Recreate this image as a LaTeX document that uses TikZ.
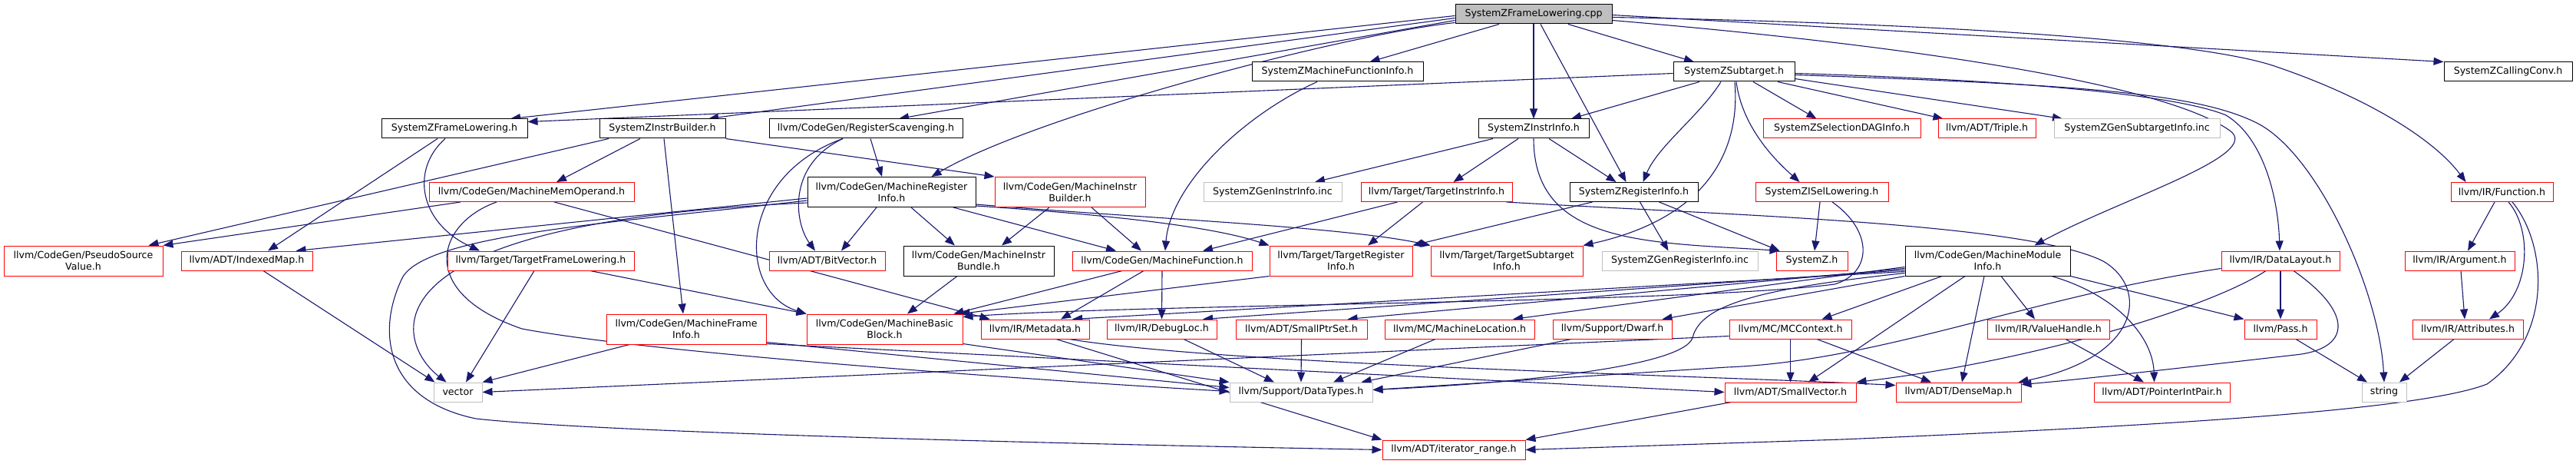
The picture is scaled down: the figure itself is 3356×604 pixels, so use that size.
\documentclass[tikz,border=0pt]{standalone}
\usepackage{fontspec}
\setmainfont{DejaVu Sans}
\usetikzlibrary{arrows.meta}
\definecolor{edgec}{HTML}{191970}
\definecolor{greyb}{HTML}{BFBFBF}
\definecolor{nred}{HTML}{FF0000}
\pgfdeclarelayer{edges}
\pgfsetlayers{edges,main}
\tikzset{
  nb/.style={draw=black, fill=white, line width=1pt, inner sep=0pt, align=center,
    minimum height=25, font=\fontsize{12.6}{15}\selectfont},
  nr/.style={nb, draw=nred},
  ng/.style={nb, draw=greyb},
  nroot/.style={nb, fill=greyb},
  twol/.style={minimum height=39},
  edg/.style={draw=edgec, line width=1.1pt, -{Triangle[length=13pt,width=10pt]}}
}
\begin{document}
\begin{tikzpicture}[x=1pt,y=-1pt]
\useasboundingbox (0,0) rectangle (3356,604);
% row 0
\node[nroot, minimum width=204] (root) at (1998,18.5) {SystemZFrameLowering.cpp};
% row 1
\node[nb, minimum width=223] (mfi) at (1742.5,93.5) {SystemZMachineFunctionInfo.h};
\node[nb, minimum width=158] (st) at (2259,93.5) {SystemZSubtarget.h};
\node[nb, minimum width=167] (cc) at (3267.5,93.5) {SystemZCallingConv.h};
% row 2
\node[nb, minimum width=190] (fl) at (592,167.5) {SystemZFrameLowering.h};
\node[nb, minimum width=164] (ib) at (863,167.5) {SystemZInstrBuilder.h};
\node[nb, minimum width=252] (rs) at (1128,167.5) {llvm/CodeGen/RegisterScavenging.h};
\node[nb, minimum width=144] (ii) at (1998,167.5) {SystemZInstrInfo.h};
\node[nr, minimum width=205] (sdag) at (2399.5,167.5) {SystemZSelectionDAGInfo.h};
\node[nr, minimum width=127] (tr) at (2588.5,167.5) {llvm/ADT/Triple.h};
\node[ng, minimum width=216] (gsi) at (2784,167.5) {SystemZGenSubtargetInfo.inc};
% row 3
\node[nr, minimum width=267] (mmo) at (692.5,250) {llvm/CodeGen/MachineMemOperand.h};
\node[nb, twol, minimum width=219] (mri) at (1161.5,250) {llvm/CodeGen/MachineRegister\\Info.h};
\node[nr, twol, minimum width=196] (mib) at (1394,250) {llvm/CodeGen/MachineInstr\\Builder.h};
\node[ng, minimum width=180] (gii) at (1658,250) {SystemZGenInstrInfo.inc};
\node[nr, minimum width=197] (tii) at (1871.5,250) {llvm/Target/TargetInstrInfo.h};
\node[nb, minimum width=167] (ri) at (2128.5,250) {SystemZRegisterInfo.h};
\node[nr, minimum width=173] (isl) at (2373.5,250) {SystemZISelLowering.h};
\node[nr, minimum width=133] (fn) at (3259.5,250) {llvm/IR/Function.h};
% row 4
\node[nr, twol, minimum width=207] (psv) at (108.5,339.5) {llvm/CodeGen/PseudoSource\\Value.h};
\node[nr, minimum width=171] (im) at (321.5,339.5) {llvm/ADT/IndexedMap.h};
\node[nr, minimum width=243] (tfl) at (704.5,339.5) {llvm/Target/TargetFrameLowering.h};
\node[nr, minimum width=151] (bv) at (1077.5,339.5) {llvm/ADT/BitVector.h};
\node[nb, twol, minimum width=196] (mbun) at (1275,339.5) {llvm/CodeGen/MachineInstr\\Bundle.h};
\node[nr, minimum width=234] (mf) at (1514,339.5) {llvm/CodeGen/MachineFunction.h};
\node[nr, twol, minimum width=186] (tri) at (1747,339.5) {llvm/Target/TargetRegister\\Info.h};
\node[nr, twol, minimum width=198] (tsi) at (1963,339.5) {llvm/Target/TargetSubtarget\\Info.h};
\node[ng, minimum width=203] (gri) at (2188.5,339.5) {SystemZGenRegisterInfo.inc};
\node[nr, minimum width=93] (sz) at (2360.5,339.5) {SystemZ.h};
\node[nb, twol, minimum width=215] (mmi) at (2589.5,339.5) {llvm/CodeGen/MachineModule\\Info.h};
\node[nr, minimum width=154] (dly) at (2971,339.5) {llvm/IR/DataLayout.h};
\node[nr, minimum width=143] (arg) at (3204.5,339.5) {llvm/IR/Argument.h};
% row 5
\node[nr, twol, minimum width=208] (mfri) at (894,428.5) {llvm/CodeGen/MachineFrame\\Info.h};
\node[nr, twol, minimum width=203] (mbb) at (1152.5,428.5) {llvm/CodeGen/MachineBasic\\Block.h};
\node[nr, minimum width=141] (md) at (1348.5,428.5) {llvm/IR/Metadata.h};
\node[nr, minimum width=143] (dl) at (1513.5,428.5) {llvm/IR/DebugLoc.h};
\node[nr, minimum width=171] (sps) at (1695.5,428.5) {llvm/ADT/SmallPtrSet.h};
\node[nr, minimum width=195] (ml) at (1901.5,428.5) {llvm/MC/MachineLocation.h};
\node[nr, minimum width=155] (dw) at (2100.5,428.5) {llvm/Support/Dwarf.h};
\node[nr, minimum width=159] (mcc) at (2332.5,428.5) {llvm/MC/MCContext.h};
\node[nr, minimum width=159] (vh) at (2668.5,428.5) {llvm/IR/ValueHandle.h};
\node[nr, minimum width=94] (pass) at (2971,428.5) {llvm/Pass.h};
\node[nr, minimum width=144] (attr) at (3215,428.5) {llvm/IR/Attributes.h};
% row 6
\node[ng, minimum width=63] (vec) at (596.5,510.5) {vector};
\node[ng, minimum width=186] (dt) at (1695,510.5) {llvm/Support/DataTypes.h};
\node[nr, minimum width=171] (sv) at (2332.5,510.5) {llvm/ADT/SmallVector.h};
\node[nr, minimum width=163] (dm) at (2551.5,510.5) {llvm/ADT/DenseMap.h};
\node[nr, minimum width=177] (pip) at (2816.5,510.5) {llvm/ADT/PointerIntPair.h};
\node[ng, minimum width=58] (str) at (3106,510.5) {string};
% row 7
\node[nr, minimum width=186] (ir) at (1894,585.5) {llvm/ADT/iterator\_range.h};

\begin{pgfonlayer}{edges}
% root
\draw[edg] ([shift={(0,2)}]root.west) -- ([xshift=73]fl.north);
\draw[edg] ([shift={(0,5)}]root.west) -- ([xshift=60]ib.north);
\draw[edg] ([shift={(0,8)}]root.west) -- ([xshift=43]rs.north);
\draw[edg] ([shift={(0,11)}]root.west) .. controls (1750,45) and (1350,150) .. ([xshift=52]mri.north);
\draw[edg] ([xshift=-45]root.south) -- ([xshift=42]mfi.north);
\draw[edg] (root.south) -- (ii.north);
\draw[edg] ([xshift=9]root.south) -- ([xshift=-10]ri.north);
\draw[edg] ([xshift=45]root.south) -- ([xshift=-52]st.north);
\draw[edg] ([shift={(0,1)}]root.east) -- (cc.north west);
\draw[edg] ([shift={(0,4)}]root.east) .. controls (2500,30) and (2850,50) .. (2960,85) .. controls (3080,125) and (3170,180) .. ([xshift=-47]fn.north);
\draw[edg] ([shift={(0,8)}]root.east) .. controls (2500,60) and (2820,110) .. (2905,170) .. controls (2950,202) and (2760,260) .. ([xshift=61]mmi.north);
% subtarget
\draw[edg] ([shift={(0,2)}]st.west) -- ([shift={(0,-9)}]fl.east);
\draw[edg] ([xshift=-45]st.south) -- ([xshift=49]ii.north);
\draw[edg] ([xshift=-17]st.south) .. controls (2215,150) and (2160,190) .. ([xshift=12]ri.north);
\draw[edg] ([xshift=1]st.south) .. controls (2268,200) and (2220,285) .. (tsi.north east);
\draw[edg] ([xshift=3]st.south) .. controls (2270,170) and (2320,215) .. ([xshift=-29]isl.north);
\draw[edg] ([xshift=25]st.south) -- ([xshift=-33]sdag.north);
\draw[edg] ([xshift=57]st.south) -- ([xshift=-57]tr.north);
\draw[edg] ([shift={(0,9)}]st.east) -- ([xshift=-97]gsi.north);
\draw[edg] ([shift={(0,2)}]st.east) .. controls (2650,105) and (2840,125) .. (2900,150) .. controls (2950,180) and (2968,260) .. ([xshift=-1]dly.north);
\draw[edg] ([shift={(0,4)}]st.east) .. controls (2700,110) and (2860,120) .. (2940,160) .. controls (3020,200) and (3100,380) .. (str.north);
% instr info
\draw[edg] ([xshift=-53]ii.south) -- ([xshift=55]gii.north);
\draw[edg] ([xshift=-20]ii.south) -- ([xshift=22]tii.north);
\draw[edg] ([xshift=20]ii.south) -- ([xshift=-23]ri.north);
\draw[edg] (ii.south) .. controls (1998,320) and (2150,315) .. ([xshift=-42]sz.north);
% register info
\draw[edg] ([xshift=-54]ri.south) -- (tri.north east);
\draw[edg] ([xshift=8]ri.south) -- ([xshift=-15]gri.north);
\draw[edg] ([xshift=33]ri.south) -- ([xshift=-42]sz.north);
% target instr info
\draw[edg] ([xshift=-18]tii.south) -- ([xshift=35]tri.north);
\draw[edg] ([xshift=-51]tii.south) -- ([xshift=53]mf.north);
\draw[edg] ([xshift=91]tii.south) .. controls (2250,280) and (2640,290) .. (2740,340) .. controls (2800,375) and (2790,465) .. ([xshift=-4]dm.north east);
% machine register info
\draw[edg] ([xshift=-19.5]mri.south) -- ([xshift=18.5]bv.north);
\draw[edg] ([xshift=25.5]mri.south) -- ([xshift=-31]mbun.north);
\draw[edg] ([xshift=80.5]mri.south) -- ([xshift=-60]mf.north);
\draw[edg] ([shift={(0,-2)}]mri.south east) .. controls (1450,280) and (1580,295) .. (tri.north west);
\draw[edg] ([shift={(0,-4)}]mri.south east) .. controls (1500,285) and (1750,295) .. (tsi.north west);
\draw[edg] ([shift={(0,8)}]mri.west) -- ([xshift=-22]im.north east);
\draw[edg] ([shift={(0,11)}]mri.west) .. controls (800,290) and (560,305) .. (525,360) .. controls (490,430) and (500,520) .. (620,545) .. controls (800,565) and (1500,580) .. (ir.west);
\draw[edg] ([shift={(0,14)}]mri.west) .. controls (450,290) and (520,450) .. ([xshift=17]vec.north west);
% register scavenging
\draw[edg] ([xshift=6]rs.south) -- ([xshift=-12.5]mri.north);
\draw[edg] ([xshift=-30]rs.south) .. controls (1025,215) and (1035,290) .. ([xshift=-15.5]bv.north);
\draw[edg] ([xshift=-30]rs.south) .. controls (960,230) and (960,380) .. (mbb.north west);
% instr builder
\draw[edg] ([xshift=-70]ib.south) -- ([xshift=85]psv.north);
\draw[edg] ([xshift=-29]ib.south) -- ([xshift=32.5]mmo.north);
\draw[edg] ([xshift=2]ib.south) -- ([xshift=-4]mfri.north);
\draw[edg] (ib.south east) -- (mib.north west);
% frame lowering
\draw[edg] ([xshift=-22]fl.south) -- ([xshift=27.5]im.north);
\draw[edg] ([xshift=-12]fl.south) .. controls (535,220) and (545,290) .. ([xshift=-79.5]tfl.north);
% machine mem operand
\draw[edg] ([xshift=-92.5]mmo.south) -- (psv.north east);
\draw[edg] ([xshift=29.5]mmo.south) -- ([xshift=12]md.north west);
\draw[edg] ([xshift=-45.5]mmo.south) .. controls (570,290) and (540,380) .. (680,428) .. controls (850,460) and (1350,495) .. ([shift={(0,-1)}]dt.west);
% target frame lowering
\draw[edg] ([xshift=-8.5]tfl.south) -- ([xshift=10.5]vec.north);
\draw[edg] ([xshift=64.5]tfl.south) -- (mbb.north west);
% machine frame info
\draw[edg] ([xshift=-74]mfri.south) -- (vec.north east);
\draw[edg] ([shift={(0,-3)}]mfri.south east) -- ([shift={(0,-6)}]dt.west);
\draw[edg] ([shift={(0,-1)}]mfri.south east) -- (sv.west);
% machine instr builder / bundle
\draw[edg] ([xshift=-27]mib.south) -- ([xshift=30]mbun.north);
\draw[edg] ([xshift=28]mib.south) -- ([xshift=-27]mf.north);
\draw[edg] ([xshift=-28]mbun.south) -- ([xshift=29.5]mbb.north);
% machine function
\draw[edg] ([xshift=-52]mf.south) -- ([xshift=90]mbb.north);
\draw[edg] ([xshift=-24]mf.south) -- ([xshift=33.5]md.north);
\draw[edg] (mf.south) -- (dl.north);
\draw[edg] ([shift={(0,-1)}]mbb.south east) -- (dt.north west);
% metadata etc
\draw[edg] ([xshift=27.5]md.south) -- (ir.north west);
\draw[edg] ([xshift=44.5]md.south) .. controls (1600,475) and (2200,488) .. ([shift={(0,-9)}]dm.west);
\draw[edg] ([xshift=28.5]dl.south) -- ([xshift=-35]dt.north);
\draw[edg] (sps.south) -- (dt.north);
\draw[edg] ([xshift=-31.5]ml.south) -- ([xshift=42]dt.north);
\draw[edg] ([xshift=-53.5]dw.south) -- ([xshift=-15]dt.north east);
\draw[edg] (tri.south west) -- ([xshift=-4]mbb.north east);
% isel lowering
\draw[edg] ([xshift=-2.5]isl.south) -- ([xshift=3.5]sz.north);
\draw[edg] ([xshift=13.5]isl.south) .. controls (2440,300) and (2440,355) .. (2390,370) .. controls (2200,395) and (1500,395) .. ([shift={(0,4)}]mbb.north east);
% mc context, value handle, small vector
\draw[edg] (mcc.south) -- (sv.north);
\draw[edg] ([xshift=34.5]mcc.south) -- ([xshift=-35.5]dm.north);
\draw[edg] ([shift={(0,-4)}]mcc.south west) -- (vec.east);
\draw[edg] ([xshift=22.5]vh.south) -- ([xshift=-23.5]pip.north);
\draw[edg] ([xshift=9]sv.south west) -- (ir.north east);
% data layout
\draw[edg] (dly.south) -- (pass.north);
\draw[edg] ([xshift=-19]dly.south) .. controls (2880,400) and (2650,470) .. (sv.north east);
\draw[edg] ([xshift=17]dly.south) .. controls (3070,410) and (3060,455) .. (2990,462) .. controls (2850,478) and (2700,495) .. ([shift={(0,3)}]dm.north east);
\draw[edg] ([shift={(0,10)}]dly.west) .. controls (2650,385) and (2450,470) .. (2250,478) -- ([shift={(0,-3)}]dt.east);
% pass, argument, attributes, function
\draw[edg] ([xshift=20]pass.south) -- ([xshift=-22]str.north);
\draw[edg] ([xshift=1.5]arg.south) -- ([xshift=-4]attr.north);
\draw[edg] ([xshift=-18]attr.south) -- ([xshift=20]str.north);
\draw[edg] ([xshift=-9.5]fn.south) -- ([xshift=10.5]arg.north);
\draw[edg] ([xshift=8.5]fn.south) .. controls (3300,300) and (3295,380) .. ([xshift=28]attr.north);
\draw[edg] ([xshift=13.5]fn.south) .. controls (3320,320) and (3325,440) .. (3240,500) .. controls (3150,535) and (2800,555) .. (2400,572) -- (ir.east);
% machine module info
\draw[edg] ([xshift=-59.5]mmi.south) -- ([xshift=41]mcc.north);
\draw[edg] (mmi.south west) -- ([xshift=65]dw.north);
\draw[edg] ([xshift=-29.5]mmi.south) -- ([xshift=23.5]sv.north);
\draw[edg] ([xshift=-4.5]mmi.south) -- ([xshift=4.5]dm.north);
\draw[edg] ([xshift=17.5]mmi.south) -- ([xshift=-17.5]vh.north);
\draw[edg] ([xshift=83.5]mmi.south) .. controls (2760,385) and (2805,440) .. ([xshift=-10]pip.north);
\draw[edg] (mmi.south east) -- (pass.north west);
\draw[edg] ([shift={(0,8)}]mmi.west) -- ([xshift=69.5]ml.north);
\draw[edg] ([shift={(0,10)}]mmi.west) -- ([xshift=60]sps.north);
\draw[edg] ([shift={(0,12)}]mmi.west) -- ([xshift=53.5]dl.north);
\draw[edg] ([shift={(0,14)}]mmi.west) -- ([xshift=48.5]md.north);
\draw[edg] ([shift={(0,16)}]mmi.west) .. controls (2300,375) and (2215,395) .. (2205,440) .. controls (2190,480) and (1950,500) .. ([shift={(0,-3)}]dt.east);
% machine function info, indexed map
\draw[edg] ([xshift=-26.5]mfi.south) .. controls (1620,150) and (1525,240) .. ([xshift=4]mf.north);
\draw[edg] ([xshift=21.5]im.south) -- ([xshift=2]vec.north west);
\end{pgfonlayer}
\end{tikzpicture}
\end{document}
